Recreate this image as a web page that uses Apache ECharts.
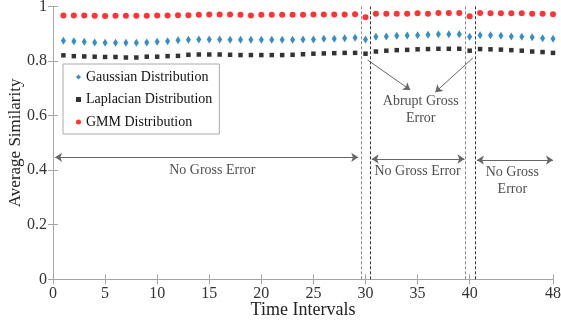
<!DOCTYPE html>
<html lang="en">
<head>
<meta charset="UTF-8">
<title>Average Similarity</title>
<script src="https://cdn.jsdelivr.net/npm/echarts@6/dist/echarts.min.js"></script>
<style>html,body{margin:0;padding:0;background:#fff;} #main{width:561px;height:325px;}</style>
</head>
<body>
<div id="main"></div>
<script>
// values, time intervals 1..48
var gaussian = [0.874, 0.873, 0.871, 0.868, 0.867, 0.867, 0.867, 0.867, 0.868, 0.871, 0.873, 0.876,
    0.878, 0.879, 0.879, 0.879, 0.878, 0.878, 0.878, 0.878, 0.878, 0.878, 0.878, 0.879,
    0.879, 0.882, 0.882, 0.884, 0.885, 0.879, 0.889, 0.890, 0.893, 0.894, 0.895, 0.896,
    0.898, 0.898, 0.898, 0.889, 0.895, 0.895, 0.893, 0.890, 0.889, 0.887, 0.884, 0.882]
var laplacian = [0.821, 0.818, 0.817, 0.816, 0.815, 0.815, 0.813, 0.813, 0.816, 0.816, 0.818, 0.819,
    0.823, 0.824, 0.824, 0.824, 0.823, 0.822, 0.822, 0.822, 0.822, 0.822, 0.823, 0.825,
    0.827, 0.828, 0.829, 0.830, 0.830, 0.827, 0.835, 0.838, 0.840, 0.841, 0.843, 0.844,
    0.845, 0.845, 0.845, 0.838, 0.844, 0.843, 0.842, 0.840, 0.838, 0.835, 0.833, 0.830]
var gmm = [0.967, 0.967, 0.967, 0.966, 0.965, 0.966, 0.966, 0.966, 0.966, 0.967, 0.967, 0.968,
    0.968, 0.970, 0.971, 0.971, 0.971, 0.970, 0.967, 0.970, 0.970, 0.970, 0.970, 0.970,
    0.971, 0.971, 0.971, 0.971, 0.972, 0.961, 0.973, 0.973, 0.973, 0.973, 0.975, 0.973,
    0.976, 0.976, 0.976, 0.964, 0.976, 0.975, 0.975, 0.975, 0.975, 0.973, 0.973, 0.972]
var xTicks = [0, 5, 10, 15, 20, 25, 30, 35, 40, 48]
var yTicks = [0, 0.2, 0.4, 0.6, 0.8, 1]
var gapLines = [29.6, 30.5, 39.6, 40.5]
var spans = [[0.2, 29.3, 0.447], [30.6, 39.5, 0.441], [40.7, 48, 0.437]]
var notes = [[15.3, 0.40, 'No Gross Error'], [35, 0.394, 'No Gross Error'],
    [44.1, 0.36, 'No Gross\nError'], [35.3, 0.62, 'Abrupt Gross\nError']]
var pointers = [[[30.2, 0.804], [34.3, 0.694]], [[40.3, 0.811], [36.7, 0.686]]]

var font = 'Liberation Serif'
var frame = '#a6a6a6'

function pairs(arr) {
    return arr.map(function(v, i) { return [i + 1, v] })
}

var lineData = []
gapLines.forEach(function(x, i) {
    lineData.push({ xAxis: x, lineStyle: { color: i % 2 ? '#333' : '#888', type: [3, 2], width: 1 } })
})
spans.forEach(function(s) {
    lineData.push([{ coord: [s[0], s[2]], symbol: 'arrow' }, { coord: [s[1], s[2]], symbol: 'arrow' }])
})
pointers.forEach(function(p) {
    lineData.push([{ coord: p[0], symbol: 'none' }, { coord: p[1], symbol: 'arrow' }])
})

var mCharts = echarts.init(document.getElementById('main'))
var option = {
    animation: false,
    grid: { left: 53, right: 8, top: 6.5, bottom: 45.7, outerBoundsMode: 'none' },
    legend: {
        orient: 'vertical',
        left: 63,
        top: 64,
        padding: [5, 7, 4, 13],
        itemGap: 6.5,
        itemWidth: 5,
        itemHeight: 5,
        borderColor: '#aaa',
        borderWidth: 1,
        backgroundColor: '#fff',
        textStyle: { fontFamily: font, fontSize: 14, color: '#111', lineHeight: 16 },
        data: [
            { name: 'Gaussian Distribution', icon: 'diamond' },
            { name: 'Laplacian Distribution', icon: 'rect' },
            { name: 'GMM Distribution', icon: 'circle' }
        ]
    },
    xAxis: [{
        type: 'value', min: 0, max: 48,
        name: 'Time Intervals', nameLocation: 'middle', nameGap: 22, nameMoveOverlap: false,
        nameTextStyle: { fontFamily: font, fontSize: 18, color: '#222' },
        axisLine: { lineStyle: { color: frame } },
        axisTick: { inside: true, length: 5, customValues: xTicks, lineStyle: { color: frame } },
        axisLabel: { customValues: xTicks, margin: 6, fontFamily: font, fontSize: 16, color: '#333' },
        splitLine: { show: false }
    }, {
        type: 'value', min: 0, max: 48, position: 'top',
        axisLine: { lineStyle: { color: frame } },
        axisTick: { inside: true, length: 5, customValues: xTicks, lineStyle: { color: frame } },
        axisLabel: { show: false },
        splitLine: { show: false }
    }],
    yAxis: [{
        type: 'value', min: 0, max: 1, interval: 0.2,
        name: 'Average Similarity', nameLocation: 'middle', nameGap: 29, nameMoveOverlap: false,
        nameTextStyle: { fontFamily: font, fontSize: 17, color: '#222' },
        axisLine: { show: true, lineStyle: { color: frame } },
        axisTick: { show: true, inside: true, length: 5, lineStyle: { color: frame } },
        axisLabel: { margin: 6, fontFamily: font, fontSize: 16, color: '#333',
            formatter: function(v) { return String(Math.round(v * 10) / 10) } },
        splitLine: { show: false }
    }, {
        type: 'value', min: 0, max: 1, interval: 0.2, position: 'right',
        axisLine: { show: true, lineStyle: { color: frame } },
        axisTick: { show: true, inside: true, length: 5, lineStyle: { color: frame } },
        axisLabel: { show: false },
        splitLine: { show: false }
    }],
    series: [{
        name: 'Gaussian Distribution',
        type: 'scatter',
        symbol: 'diamond',
        symbolSize: [5, 8],
        itemStyle: { color: '#0072BD' },
        data: pairs(gaussian)
    }, {
        name: 'Laplacian Distribution',
        type: 'scatter',
        symbol: 'rect',
        symbolSize: 4.5,
        itemStyle: { color: '#000' },
        data: pairs(laplacian)
    }, {
        name: 'GMM Distribution',
        type: 'scatter',
        symbol: 'circle',
        symbolSize: 6,
        itemStyle: { color: '#ff0000' },
        data: pairs(gmm)
    }, {
        name: 'notes',
        type: 'scatter',
        symbolSize: 0,
        silent: true,
        label: {
            show: true, position: 'inside',
            fontFamily: font, fontSize: 14, color: '#222', lineHeight: 17,
            formatter: function(p) { return p.data[2] }
        },
        data: notes,
        markLine: {
            silent: true,
            symbol: 'none',
            symbolSize: 7,
            label: { show: false },
            lineStyle: { color: '#666', type: 'solid', width: 1 },
            data: lineData
        }
    }]
}
mCharts.setOption(option)
</script>
</body>
</html>
